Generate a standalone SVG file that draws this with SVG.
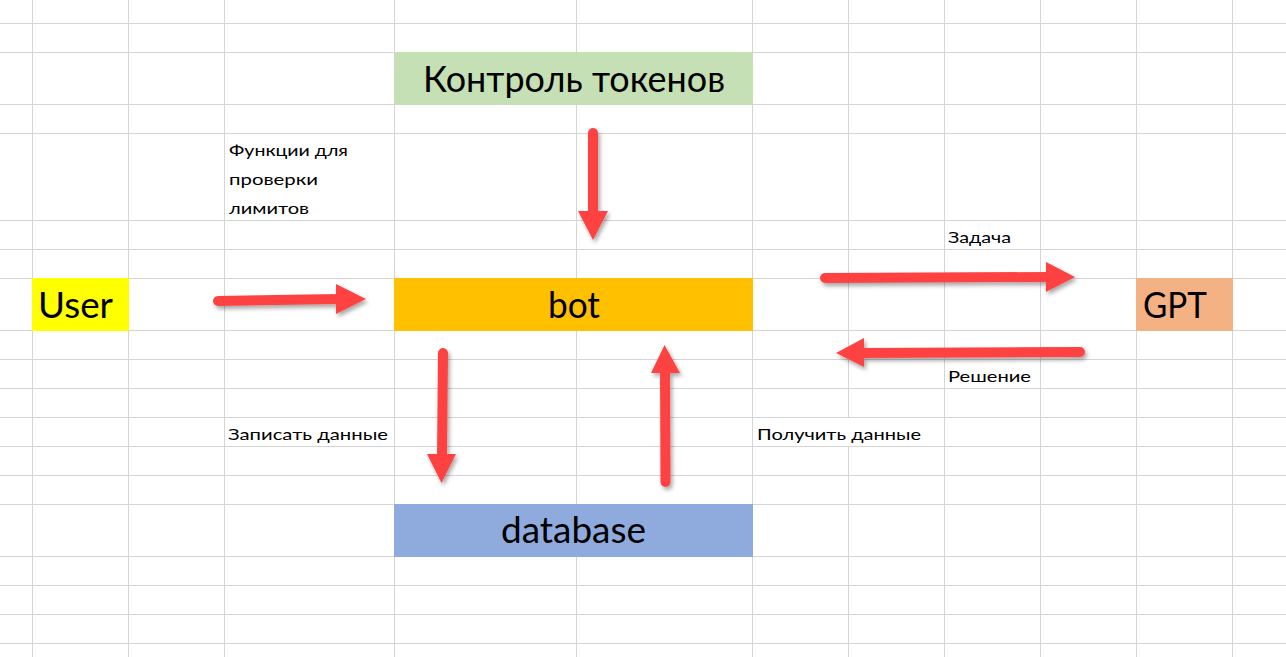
<svg xmlns="http://www.w3.org/2000/svg" width="1286" height="657" viewBox="0 0 1286 657">
<defs>
<style>
.grid line{stroke:#d4d4d4;stroke-width:1}
.big{font-family:Lato,"Noto Sans","Open Sans",sans-serif;font-size:36px;fill:#000}
.sm{font-family:Lato,"Noto Sans","Open Sans",sans-serif;font-size:15px;fill:#000}
.shaft{stroke:#fe4343;stroke-width:10;stroke-linecap:round;fill:none}
.head{fill:#fe4343}
</style>
<filter id="sh" x="-30%" y="-30%" width="160%" height="160%">
<feDropShadow dx="2" dy="3" stdDeviation="2" flood-color="#000" flood-opacity="0.35"/>
</filter>
</defs>
<rect width="1286" height="657" fill="#fff"/>
<g class="grid">
<line x1="32.5" y1="0" x2="32.5" y2="657"/>
<line x1="128.5" y1="0" x2="128.5" y2="657"/>
<line x1="224.5" y1="0" x2="224.5" y2="657"/>
<line x1="394.5" y1="0" x2="394.5" y2="657"/>
<line x1="576.5" y1="0" x2="576.5" y2="657"/>
<line x1="752.5" y1="0" x2="752.5" y2="657"/>
<line x1="848.5" y1="0" x2="848.5" y2="417"/>
<line x1="848.5" y1="446" x2="848.5" y2="657"/>
<line x1="944.5" y1="0" x2="944.5" y2="657"/>
<line x1="1040.5" y1="0" x2="1040.5" y2="657"/>
<line x1="1136.5" y1="0" x2="1136.5" y2="657"/>
<line x1="1232.5" y1="0" x2="1232.5" y2="657"/>
<line x1="0" y1="23.5" x2="1286" y2="23.5"/>
<line x1="0" y1="52.5" x2="1286" y2="52.5"/>
<line x1="0" y1="104.5" x2="1286" y2="104.5"/>
<line x1="0" y1="133.5" x2="1286" y2="133.5"/>
<line x1="0" y1="220.5" x2="1286" y2="220.5"/>
<line x1="0" y1="249.5" x2="1286" y2="249.5"/>
<line x1="0" y1="278.5" x2="1286" y2="278.5"/>
<line x1="0" y1="330.5" x2="1286" y2="330.5"/>
<line x1="0" y1="359.5" x2="1286" y2="359.5"/>
<line x1="0" y1="388.5" x2="1286" y2="388.5"/>
<line x1="0" y1="417.5" x2="1286" y2="417.5"/>
<line x1="0" y1="446.5" x2="1286" y2="446.5"/>
<line x1="0" y1="475.5" x2="1286" y2="475.5"/>
<line x1="0" y1="504.5" x2="1286" y2="504.5"/>
<line x1="0" y1="556.5" x2="1286" y2="556.5"/>
<line x1="0" y1="585.5" x2="1286" y2="585.5"/>
<line x1="0" y1="614.5" x2="1286" y2="614.5"/>
<line x1="0" y1="643.5" x2="1286" y2="643.5"/>
</g>
<g id="node-tokens">
<rect x="394" y="52" width="359" height="53" fill="#c5e0b4"/>
<text class="big" x="423" y="92" textLength="302" lengthAdjust="spacingAndGlyphs">Контроль токенов</text>
</g>
<g id="node-user">
<rect x="32" y="278" width="97" height="53" fill="#ffff00"/>
<text class="big" x="38" y="318" textLength="75" lengthAdjust="spacingAndGlyphs">User</text>
</g>
<g id="node-bot">
<rect x="394" y="278" width="359" height="53" fill="#ffc000"/>
<text class="big" x="548" y="318" textLength="52" lengthAdjust="spacingAndGlyphs">bot</text>
</g>
<g id="node-gpt">
<rect x="1136" y="278" width="97" height="53" fill="#f4b183"/>
<text class="big" x="1143" y="318" textLength="64" lengthAdjust="spacingAndGlyphs">GPT</text>
</g>
<g id="node-database">
<rect x="394" y="504" width="359" height="53" fill="#8faadc"/>
<text class="big" x="501" y="543" textLength="145" lengthAdjust="spacingAndGlyphs">database</text>
</g>
<g id="labels">
<text class="sm" x="229" y="156" textLength="119" lengthAdjust="spacingAndGlyphs">Функции для</text>
<text class="sm" x="229" y="185" textLength="89" lengthAdjust="spacingAndGlyphs">проверки</text>
<text class="sm" x="229" y="214" textLength="80" lengthAdjust="spacingAndGlyphs">лимитов</text>
<text class="sm" x="948" y="243" textLength="63" lengthAdjust="spacingAndGlyphs">Задача</text>
<text class="sm" x="948" y="382" textLength="83" lengthAdjust="spacingAndGlyphs">Решение</text>
<text class="sm" x="228" y="440" textLength="160" lengthAdjust="spacingAndGlyphs">Записать данные</text>
<text class="sm" x="757" y="440" textLength="164" lengthAdjust="spacingAndGlyphs">Получить данные</text>
</g>
<g id="connectors" filter="url(#sh)">
<g id="e-user-bot">
<line class="shaft" x1="218" y1="301" x2="340" y2="299"/>
<polygon class="head" points="336,284 366,299 336,314"/>
</g>
<g id="e-tokens-bot">
<line class="shaft" x1="593" y1="133" x2="593" y2="215"/>
<polygon class="head" points="578,211 608,211 593,240"/>
</g>
<g id="e-bot-gpt">
<line class="shaft" x1="825" y1="278" x2="1050" y2="277"/>
<polygon class="head" points="1046,262 1075,277 1046,292"/>
</g>
<g id="e-gpt-bot">
<line class="shaft" x1="1080" y1="352" x2="860" y2="353"/>
<polygon class="head" points="864,338 836,353 864,367"/>
</g>
<g id="e-bot-db">
<line class="shaft" x1="443" y1="353" x2="442" y2="458"/>
<polygon class="head" points="427,454 456,454 441.5,483"/>
</g>
<g id="e-db-bot">
<line class="shaft" x1="665.5" y1="482" x2="665" y2="370"/>
<polygon class="head" points="651,373 680,373 664.5,345"/>
</g>
</g>
</svg>
